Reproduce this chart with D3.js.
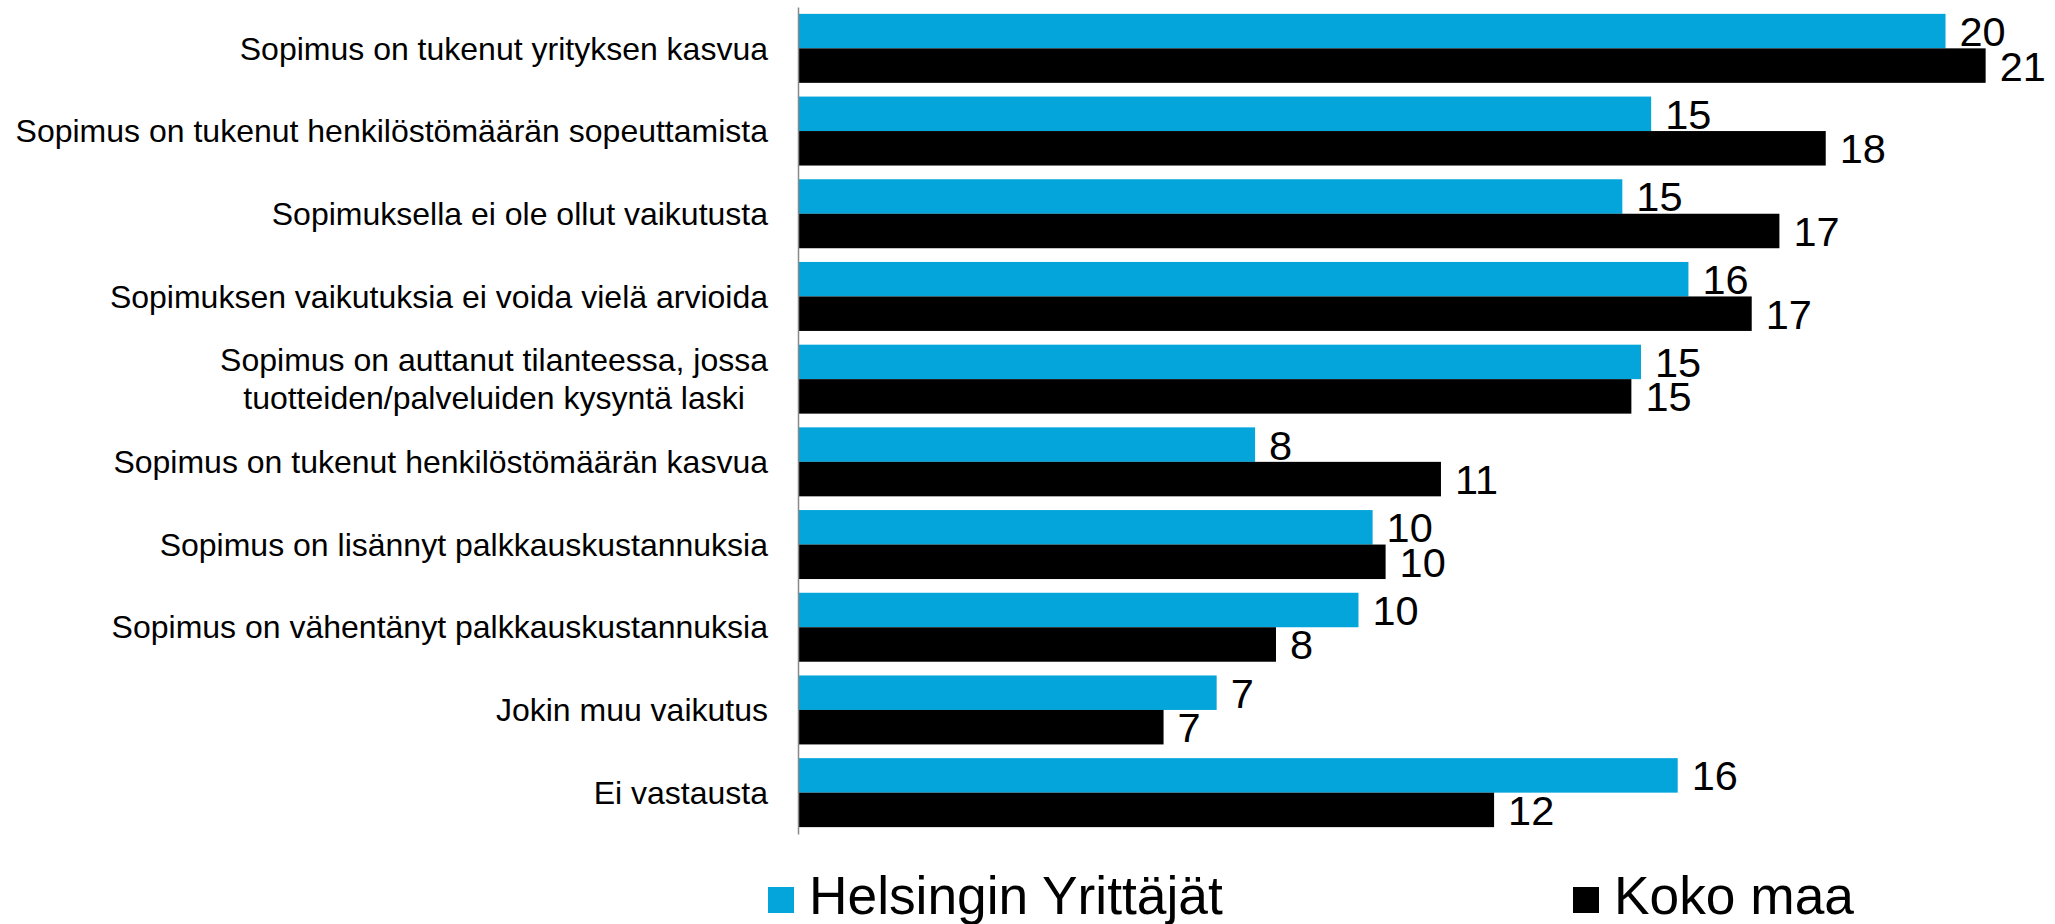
<!DOCTYPE html>
<html>
<head>
<meta charset="utf-8">
<script src="https://cdn.jsdelivr.net/npm/d3@7"></script>
<style>
  body { margin: 0; background: #fff; }
  svg { display: block; font-family: "Liberation Sans", Arial, sans-serif; }
  .cat { font-size: 32px; fill: #000; }
  .val { font-size: 41.5px; fill: #000; }
  .legend text { font-size: 53.3px; fill: #000; }
</style>
</head>
<body>
<svg width="2055" height="924"></svg>
<script>
// **** Data ****
var categories = [
    'Sopimus on tukenut yrityksen kasvua',
    'Sopimus on tukenut henkilöstömäärän sopeuttamista',
    'Sopimuksella ei ole ollut vaikutusta',
    'Sopimuksen vaikutuksia ei voida vielä arvioida',
    'Sopimus on auttanut tilanteessa, jossa\ntuotteiden/palveluiden kysyntä laski',
    'Sopimus on tukenut henkilöstömäärän kasvua',
    'Sopimus on lisännyt palkkauskustannuksia',
    'Sopimus on vähentänyt palkkauskustannuksia',
    'Jokin muu vaikutus',
    'Ei vastausta'
];

var seriesNames = ['Helsingin Yrittäjät', 'Koko maa'];
var seriesColors = ['#03a5da', '#000000'];

// bar lengths
var helsinki = [20.31, 15.10, 14.59, 15.76, 14.92, 8.09, 10.17, 9.92, 7.41, 15.57];
var kokoMaa  = [21.02, 18.19, 17.37, 16.88, 14.75, 11.38, 10.40, 8.46, 6.47, 12.32];

// data labels as printed on the chart
var helsinkiLabels = [20, 15, 15, 16, 15, 8, 10, 10, 7, 16];
var kokoMaaLabels  = [21, 18, 17, 17, 15, 11, 10, 8, 7, 12];

var rows = categories.map(function(c, i) {
    return {
        cat: c,
        bars: [
            { s: 0, v: helsinki[i], label: helsinkiLabels[i] },
            { s: 1, v: kokoMaa[i], label: kokoMaaLabels[i] }
        ]
    };
});

// **** Scales and axis ****
var svg = d3.select('svg');

var xScale = d3.scaleLinear()
    .domain([0, 22]).range([798, 798 + 22 * 56.5]);

var yScale = d3.scaleBand()
    .domain(categories).range([7, 834])
    .paddingInner(0.166).paddingOuter(0.083);

var sScale = d3.scaleBand()
    .domain([0, 1]).range([0, yScale.bandwidth()]);

// **** Bars ****
var group = svg.selectAll('g.row')
    .data(rows)
    .enter()
    .append('g')
    .attr('class', 'row')
    .attr('transform', function(d) { return 'translate(0,' + yScale(d.cat) + ')'; });

group.selectAll('rect')
    .data(function(d) { return d.bars; })
    .enter()
    .append('rect')
    .attr('x', xScale(0))
    .attr('y', function(d) { return sScale(d.s); })
    .attr('width', function(d) { return xScale(d.v) - xScale(0); })
    .attr('height', sScale.bandwidth())
    .style('fill', function(d) { return seriesColors[d.s]; });

group.selectAll('text.val')
    .data(function(d) { return d.bars; })
    .enter()
    .append('text')
    .attr('class', 'val')
    .attr('x', function(d) { return xScale(d.v) + 14; })
    .attr('y', function(d) { return sScale(d.s) + sScale.bandwidth() / 2; })
    .attr('dy', '0.36em')
    .text(function(d) { return d.label; });

// vertical axis line, no ticks
svg.append('g').attr('class', 'y axis')
    .attr('transform', 'translate(' + xScale(0) + ',0)')
    .call(d3.axisLeft(yScale).tickSize(0).tickSizeOuter(0).tickFormat(''))
    .call(function(g) {
        g.select('.domain').attr('stroke', '#898989').attr('stroke-width', 1.5);
    });

// **** Category labels ****
var labelRight = 768;
var lineHeight = 38;

categories.forEach(function(c) {
    var lines = c.split('\n');
    var cy = yScale(c) + yScale.bandwidth() / 2;
    var t = svg.append('text').attr('class', 'cat');
    var spans = lines.map(function(l, i) {
        return t.append('tspan')
            .attr('y', cy + (i - (lines.length - 1) / 2) * lineHeight)
            .attr('dy', '0.35em')
            .text(l);
    });
    if (lines.length == 1) {
        t.attr('text-anchor', 'end');
        spans[0].attr('x', labelRight);
    } else {
        var maxW = d3.max(spans, function(s) { return s.node().getComputedTextLength(); });
        t.attr('text-anchor', 'middle');
        spans.forEach(function(s) { s.attr('x', labelRight - maxW / 2); });
    }
});

// **** Legend ****
var legendX = [768, 1573];
var legend = svg.selectAll('g.legend')
    .data(seriesNames)
    .enter()
    .append('g')
    .attr('class', 'legend')
    .attr('transform', function(d, i) { return 'translate(' + legendX[i] + ',0)'; });

legend.append('rect')
    .attr('x', 0).attr('y', 887)
    .attr('width', 26).attr('height', 26)
    .style('fill', function(d, i) { return seriesColors[i]; });

legend.append('text')
    .attr('x', 41).attr('y', 914)
    .text(function(d) { return d; });
</script>
</body>
</html>
